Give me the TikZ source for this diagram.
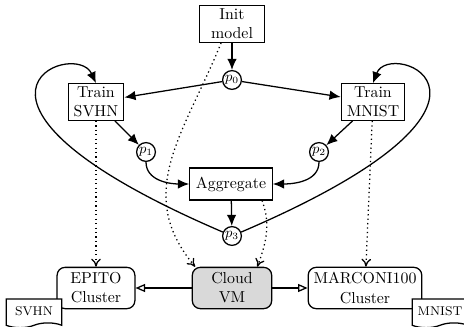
\documentclass[tikz,border=0pt]{standalone}
\usepackage{amsmath}
\usepackage{amssymb}
\usepackage{tikz}
\usetikzlibrary{
  arrows.meta,
  calc,
  positioning,
  shapes.symbols}

\begin{document}
\begin{tikzpicture}[x=0.63pt,y=-0.63pt,thick,
    box/.style={draw,align=center,inner sep=2pt,minimum height=20pt},
    pnode/.style={draw,circle,inner sep=0.5pt,minimum size=10pt,font=\small},
    cluster/.style={draw,rounded corners=5pt,align=center,minimum height=26pt},
    dataset/.style={draw,fill=white,tape,tape bend top=none,tape bend height=3pt,minimum width=35pt,minimum height=18pt,font=\footnotesize},
    flow/.style={-{Latex[length=7pt,width=6pt]}},
    deploy/.style={dotted,-{To[length=5pt,width=6pt]}},
    launch/.style={-{Triangle[open,length=6pt,width=5pt]}}]
            \useasboundingbox (0,0) rectangle (464,327);

            % training rounds
            \node[box,minimum width=41pt] (init) at (232,24) {Init\\model};
            \node[pnode] (p0) at (232,80) {$p_0$};
            \node[box,minimum width=35pt] (svhn) at (96,102) {Train\\SVHN};
            \node[box,minimum width=40pt] (mnist) at (373,102) {Train\\MNIST};
            \node[pnode] (p1) at (146,152) {$p_1$};
            \node[pnode] (p2) at (319,152) {$p_2$};
            \node[box,minimum width=52pt] (agg) at (231,184) {Aggregate};
            \node[pnode] (p3) at (232,236) {$p_3$};

            % machines
            \node[cluster,minimum width=49pt] (epito) at (96,288) {EPITO\\Cluster};
            \node[cluster,fill=black!15,minimum width=50pt] (cloud) at (232,288) {Cloud\\VM};
            \node[cluster,minimum width=69pt] (marconi) at (365,288) {MARCONI100\\Cluster};
            \node[dataset] (dsvhn) at (34,311) {SVHN};
            \node[dataset] (dmnist) at (440,311) {MNIST};

            \draw[flow] (init) -- (p0);
            \draw[flow] (p0) -- (svhn);
            \draw[flow] (p0) -- (mnist);
            \draw[flow] (svhn) -- (p1);
            \draw[flow] (mnist) -- (p2);
            \draw[flow] (p1) to[out=-90,in=180] (agg);
            \draw[flow] (p2) to[out=-90,in=0] (agg);
            \draw[flow] (agg) -- (p3);
            \draw[flow] (p3) .. controls (-85,100) and (75,38) .. (svhn.north);
            \draw[flow] (p3) .. controls (550,100) and (390,38) .. (mnist.north);

            \draw[deploy] (svhn) -- (epito);
            \draw[deploy] (mnist) -- (marconi);
            \draw[deploy] (init.240) to[out=-112,in=130,looseness=1.1] (cloud.150);
            \draw[deploy] (agg.-28) to[out=-70,in=70] (cloud.40);
            \draw[launch] (cloud) -- (epito);
            \draw[launch] (cloud) -- (marconi);
        \end{tikzpicture}
\end{document}
